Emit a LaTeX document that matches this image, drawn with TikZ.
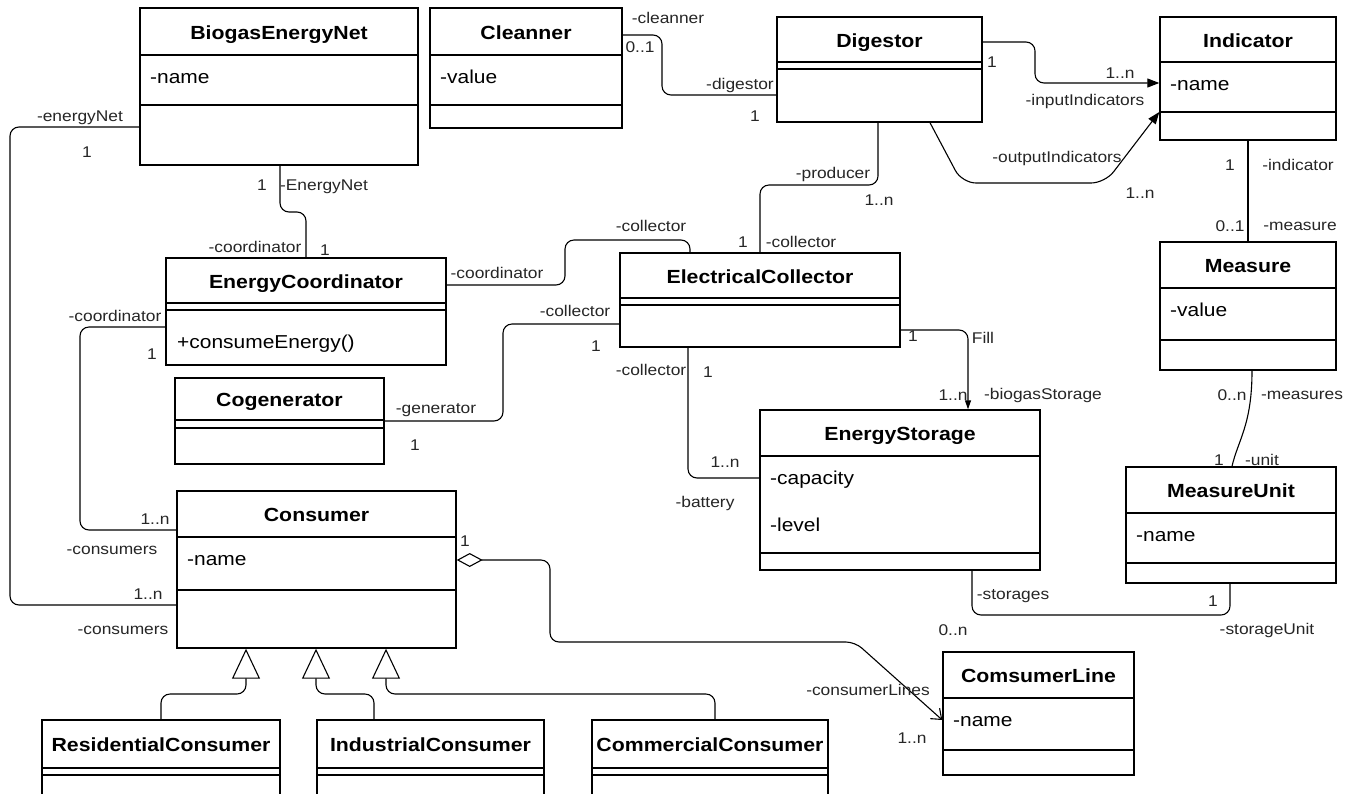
\documentclass[tikz,border=0pt]{standalone}
\usepackage{fontspec}
\setmainfont[FakeStretch=1.12]{Liberation Sans}
\usetikzlibrary{arrows.meta,fit,calc}

\tikzset{
  classbox/.style={draw=black, line width=1.4pt, inner sep=0pt},
  classline/.style={line width=1.4pt},
  titletext/.style={anchor=base, inner sep=0pt, font=\fontsize{19}{21}\selectfont\bfseries},
  attrtext/.style={anchor=base west, inner sep=0pt, font=\fontsize{18.7}{21}\selectfont},
  lab/.style={inner sep=0pt, font=\fontsize{15.5}{17}\selectfont, text=black!85},
  conn/.style={line width=1.1pt, rounded corners=9pt},
  gen/.style={conn, -{Triangle[open, length=30pt, width=28pt, fill=white, line width=1.1pt]}},
  filledarrow/.style={conn, -{Triangle[length=12pt, width=9pt]}},
}

\newcommand\umlclass[9]{%
  \node[classbox, fit={(#2,#3) (#4,#5)}] (#1) {};
  \draw[classline] (#2,#6) -- (#4,#6);
  \draw[classline] (#2,#7) -- (#4,#7);
  \node[titletext] (#1-title) at ({(#2+#4)/2},{(#3+#6)/2+7.5}) {#8};
  \node[attrtext] (#1-attr) at ({#2+10},{#6+28}) {#9};
}

\begin{document}
\begin{tikzpicture}[x=1pt,y=-1pt]
\clip (0,0) rectangle (1356,793);
\fill[white] (0,0) rectangle (1356,793);
\useasboundingbox (0,0) rectangle (1356,793);

% classes
\umlclass{bio}{140}{8}{418}{165}{55}{105}{BiogasEnergyNet}{-name}
\umlclass{cle}{430}{8}{622}{128}{55}{105}{Cleanner}{-value}
\umlclass{dig}{777}{17}{982}{122}{62}{69}{Digestor}{}
\umlclass{ind}{1160}{17}{1336}{140}{62}{112}{Indicator}{-name}
\umlclass{eco}{166}{258}{446}{365}{303}{310}{EnergyCoordinator}{}
\node[attrtext] (eco-op) at (177,348) {+consumeEnergy()};
\umlclass{ecol}{620}{253}{900}{347}{298}{305}{ElectricalCollector}{}
\umlclass{cog}{175}{378}{384}{464}{420}{428}{Cogenerator}{}
\umlclass{mea}{1160}{242}{1336}{370}{288}{340}{Measure}{-value}
\umlclass{est}{760}{410}{1040}{570}{456}{553}{EnergyStorage}{-capacity}
\node[attrtext] (est-a2) at (770,531) {-level};
\umlclass{mu}{1126}{467}{1336}{583}{513}{563}{MeasureUnit}{-name}
\umlclass{con}{177}{491}{456}{648}{537}{590}{Consumer}{-name}
\umlclass{res}{42}{720}{280}{812}{768}{775}{ResidentialConsumer}{}
\umlclass{inc}{317}{720}{544}{812}{768}{775}{IndustrialConsumer}{}
\umlclass{com}{592}{720}{828}{812}{768}{775}{CommercialConsumer}{}
\umlclass{cl}{943}{652}{1134}{775}{698}{750}{ComsumerLine}{-name}

% connectors
\draw[conn] (cle.east |- 0,35) -- (662,35) -- (662,95) -- (dig.west |- 0,95);
\draw[filledarrow] (dig.east |- 0,42) -- (1035,42) -- (1035,83) -- (ind.west |- 0,83);
\draw[filledarrow, rounded corners=14pt] (dig.south -| 930,0) -- (962,183) -- (1105,183) -- (ind.west |- 0,112);
\draw[conn] (dig.south -| 878,0) -- (878,185) -- (760,185) -- (ecol.north -| 760,0);
\draw[conn] (ind.south -| 1248,0) -- (mea.north -| 1248,0);
\draw[line width=1.1pt] (mea.south -| 1252,0) .. controls (1252,425) and (1238,440) .. (mu.north -| 1232,0);
\draw[conn] (bio.south -| 280,0) -- (280,212) -- (306,212) -- (eco.north -| 306,0);
\draw[conn] (bio.west |- 0,127) -- (10,127) -- (10,605) -- (con.west |- 0,605);
\draw[conn] (eco.west |- 0,327) -- (80,327) -- (80,530) -- (con.west |- 0,530);
\draw[conn] (eco.east |- 0,285) -- (565,285) -- (565,240) -- (690,240) -- (ecol.north -| 690,0);
\draw[conn] (cog.east |- 0,421) -- (503,421) -- (503,324) -- (ecol.west |- 0,324);
\draw[conn] (ecol.south -| 688,0) -- (688,478) -- (est.west |- 0,478);
\draw[conn, -{Triangle[length=9pt, width=6pt]}] (ecol.east |- 0,330) -- (968,330) -- (est.north -| 968,0);
\draw[conn] (est.south -| 972,0) -- (972,615) -- (1230,615) -- (mu.south -| 1230,0);
\draw[conn, {Diamond[open, length=26pt, width=14pt, fill=white, line width=1.1pt]}-{Straight Barb[length=9pt, width=14pt, line width=1.1pt]}]
  (con.east |- 0,560) -- (550,560) -- (550,642) -- (855,642) -- (cl.west |- 0,720);
\draw[gen] (res.north -| 161,0) -- (161,694) -- (246,694) -- (con.south -| 246,0);
\draw[gen] (inc.north -| 374,0) -- (374,694) -- (316,694) -- (con.south -| 316,0);
\draw[gen] (com.north -| 715,0) -- (715,694) -- (386,694) -- (con.south -| 386,0);

% labels
\node[lab] (l1) at (668,18) {-cleanner};
\node[lab] (l2) at (640,47) {0..1};
\node[lab] (l3) at (740,85) {-digestor};
\node[lab] (l4) at (755,116) {1};
\node[lab] (l5) at (992,62) {1};
\node[lab] (l6) at (1120,73) {1..n};
\node[lab] (l7) at (1085,101) {-inputIndicators};
\node[lab] (l8) at (1057,158) {-outputIndicators};
\node[lab] (l9) at (1140,193) {1..n};
\node[lab] (l10) at (833,174) {-producer};
\node[lab] (l11) at (879,200) {1..n};
\node[lab] (l12) at (743,242) {1};
\node[lab] (l13) at (801,242) {-collector};
\node[lab] (l14) at (651,226) {-collector};
\node[lab] (l15) at (1230,165) {1};
\node[lab] (l16) at (1298,165) {-indicator};
\node[lab] (l17) at (1230,226) {0..1};
\node[lab] (l18) at (1300,226) {-measure};
\node[lab] (l19) at (1232,395) {0..n};
\node[lab] (l20) at (1302,395) {-measures};
\node[lab] (l21) at (1219,460) {1};
\node[lab] (l22) at (1262,460) {-unit};
\node[lab] (l23) at (80,118) {-energyNet};
\node[lab] (l24) at (87,152) {1};
\node[lab] (l25) at (262,185) {1};
\node[lab] (l26) at (324,187) {-EnergyNet};
\node[lab] (l27) at (255,247) {-coordinator};
\node[lab] (l28) at (325,250) {1};
\node[lab] (l29) at (497,273) {-coordinator};
\node[lab] (l30) at (115,316) {-coordinator};
\node[lab] (l31) at (152,354) {1};
\node[lab] (l32) at (575,311) {-collector};
\node[lab] (l33) at (596,346) {1};
\node[lab] (l34) at (436,410) {-generator};
\node[lab] (l35) at (415,445) {1};
\node[lab] (l36) at (651,370) {-collector};
\node[lab] (l37) at (708,372) {1};
\node[lab] (l38) at (913,336) {1};
\node[lab] (l39) at (983,338) {Fill};
\node[lab] (l40) at (953,395) {1..n};
\node[lab] (l41) at (1043,395) {-biogasStorage};
\node[lab] (l42) at (725,462) {1..n};
\node[lab] (l43) at (705,503) {-battery};
\node[lab] (l44) at (155,519) {1..n};
\node[lab] (l45) at (112,550) {-consumers};
\node[lab] (l46) at (148,594) {1..n};
\node[lab] (l47) at (123,630) {-consumers};
\node[lab] (l48) at (465,541) {1};
\node[lab] (l49) at (1013,596) {-storages};
\node[lab] (l50) at (953,630) {0..n};
\node[lab] (l51) at (1213,601) {1};
\node[lab] (l52) at (1267,630) {-storageUnit};
\node[lab] (l53) at (868,690) {-consumerLines};
\node[lab] (l54) at (912,738) {1..n};
\end{tikzpicture}
\end{document}
